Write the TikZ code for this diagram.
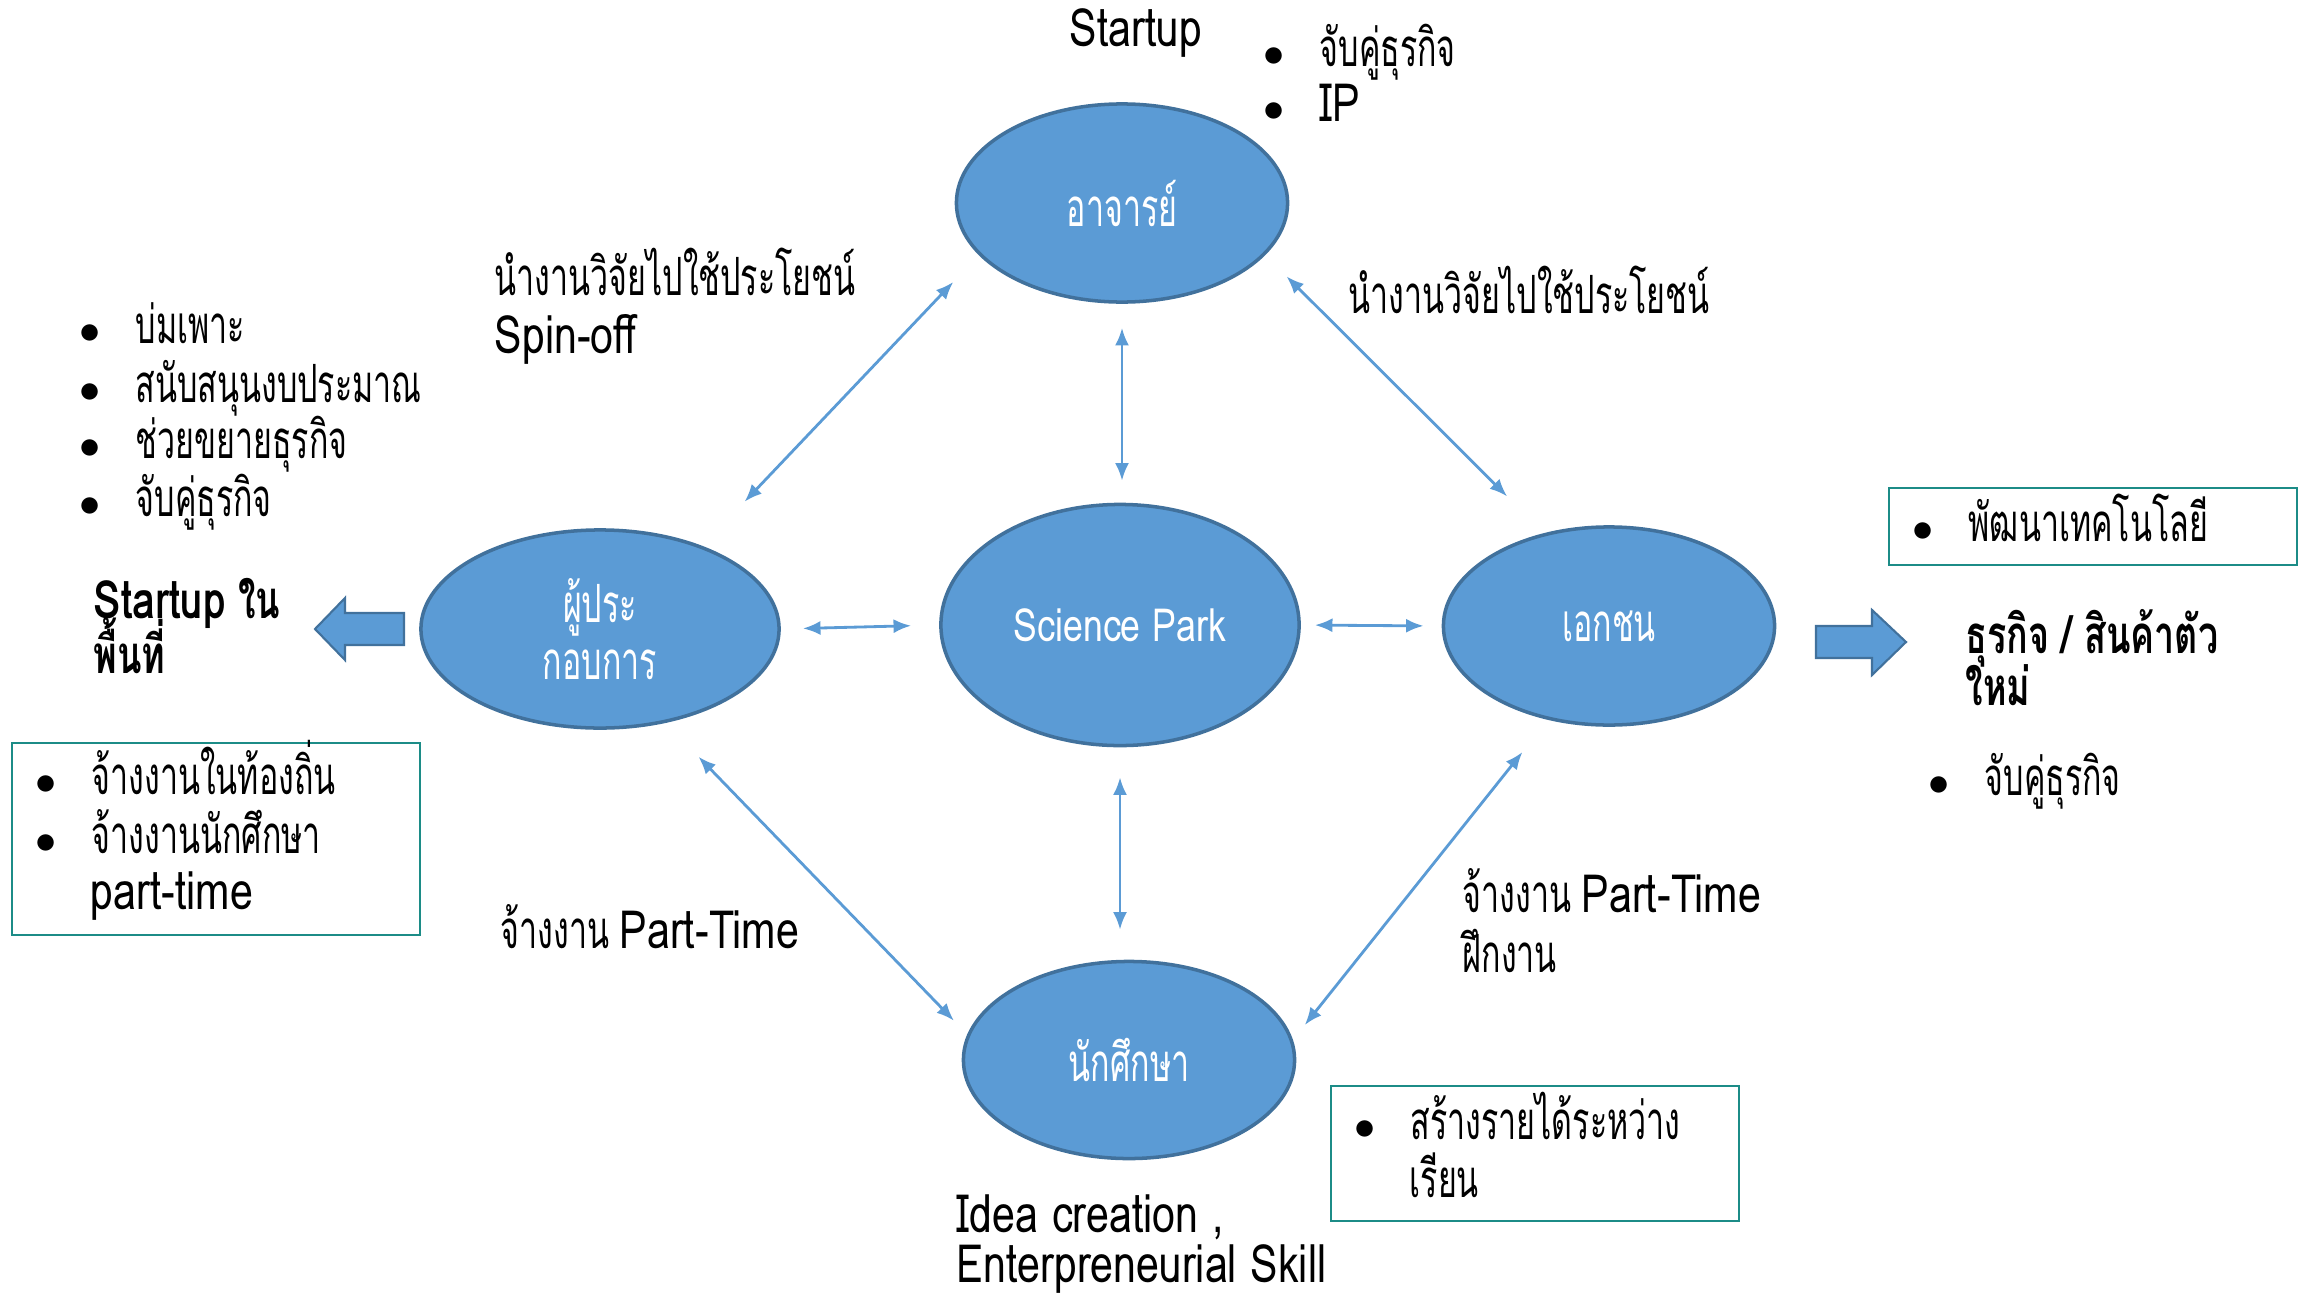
\documentclass[tikz,border=0pt]{standalone}
\usepackage{fontspec}
\setmainfont[Script=Thai,FakeStretch=0.61,BoldFeatures={FakeStretch=0.68}]{Loma}
\newfontfamily\latfont[FakeStretch=0.78]{Loma}
\usetikzlibrary{shapes.geometric,arrows.meta}
\definecolor{nodeblue}{HTML}{5B9BD5}
\definecolor{edgeblue}{HTML}{41719C}
\definecolor{boxteal}{HTML}{1C8C87}
\newcommand{\lat}[1]{{\latfont #1}}
\newcommand{\itm}[1]{\makebox[0.56cm][l]{\fontsize{12}{12}\selectfont$\bullet$}#1}
\tikzset{
  actor/.style={ellipse, fill=nodeblue, draw=edgeblue, line width=1pt, text=white, align=center, inner sep=0pt},
  link/.style={<->, >={Latex[length=5pt,width=4pt]}, draw=nodeblue, line width=0.8pt},
  txt/.style={anchor=base west, inner sep=0pt},
  tagbox/.style={draw=boxteal, line width=0.8pt},
  bigarrow/.style={fill=nodeblue, draw=edgeblue, line width=0.6pt}
}

\begin{document}
\begin{tikzpicture}[x=0.01cm,y=-0.01cm,font=\fontsize{15}{16}\selectfont]
    \useasboundingbox (0,0) rectangle (2321,1303);
    % partners
    \node[actor, minimum width=3.31cm, minimum height=1.98cm] (ajarn) at (1122,203) {อาจารย์};
    \node[actor, minimum width=3.58cm, minimum height=2.41cm] (park) at (1120,625) {\fontsize{13}{14}\selectfont\lat{Science Park}};
    \node[actor, minimum width=3.58cm, minimum height=1.98cm] (operator) at (600,629) {ผู้ประ\\กอบการ};
    \node[actor, minimum width=3.31cm, minimum height=1.98cm] (ekachon) at (1609,626) {เอกชน};
    \node[actor, minimum width=3.31cm, minimum height=1.97cm] (student) at (1129,1060) {นักศึกษา};

    % links
    \draw[link, shorten <=0.24cm, shorten >=0.22cm] (ajarn.south) -- (ajarn.south |- park.north);
    \draw[link, shorten <=0.30cm, shorten >=0.30cm] (park.south) -- (park.south |- student.north);
    \draw[link, shorten <=0.22cm, shorten >=0.28cm] (operator.east) -- (park.west);
    \draw[link, shorten <=0.14cm, shorten >=0.18cm] (park.east) -- (ekachon.west);
    \draw[link, shorten <=0.37cm, shorten >=0.61cm] (ajarn.200) -- (operator.39);
    \draw[link, shorten <=0.30cm, shorten >=0.52cm] (ajarn.340) -- (ekachon.125);
    \draw[link, shorten <=0.47cm, shorten >=0.19cm] (operator.305) -- (student.171);
    \draw[link, shorten <=0.41cm, shorten >=0.19cm] (ekachon.237) -- (student.7);

    % block arrows
    \filldraw[bigarrow] (404,613) -- (345,613) -- (345,598) -- (315,629) -- (345,660) -- (345,645) -- (404,645) -- cycle;
    \filldraw[bigarrow] (1816,626) -- (1872,626) -- (1872,610) -- (1906,642) -- (1872,675) -- (1872,658) -- (1816,658) -- cycle;

    % boxes
    \draw[tagbox] (12,743) rectangle (420,935);
    \draw[tagbox] (1889,488) rectangle (2297,565);
    \draw[tagbox] (1331,1086) rectangle (1739,1221);

    % texts
    \node[txt] (startupTop) at (1069,46) {\lat{Startup}};
    \node[txt] (topItemA) at (1263,66) {\itm{จับคู่ธุรกิจ}};
    \node[txt] (topItemB) at (1263,121) {\itm{\lat{IP}}};
    \node[txt] (spinA) at (494,295) {นำงานวิจัยไปใช้ประโยชน์};
    \node[txt] (spinB) at (494,353) {\lat{Spin-off}};
    \node[txt] (useRight) at (1348,313) {นำงานวิจัยไปใช้ประโยชน์};
    \node[txt] (incA) at (79,343) {\itm{บ่มเพาะ}};
    \node[txt] (incB) at (79,402) {\itm{สนับสนุนงบประมาณ}};
    \node[txt] (incC) at (79,458) {\itm{ช่วยขยายธุรกิจ}};
    \node[txt] (incD) at (79,516) {\itm{จับคู่ธุรกิจ}};
    \node[txt] (localA) at (93,618) {\bfseries \lat{Startup} ใน};
    \node[txt] (localB) at (93,673) {\bfseries พื้นที่};
    \node[txt] (hireA) at (35,794) {\itm{จ้างงานในท้องถิ่น}};
    \node[txt] (hireB) at (35,853) {\itm{จ้างงานนักศึกษา}};
    \node[txt] (hireC) at (90,909) {\lat{part-time}};
    \node[txt] (partLeft) at (500,948) {จ้างงาน \lat{Part-Time}};
    \node[txt] (techA) at (1912,541) {\itm{พัฒนาเทคโนโลยี}};
    \node[txt] (newA) at (1965,653) {\bfseries ธุรกิจ / สินค้าตัว};
    \node[txt] (newB) at (1965,705) {\bfseries ใหม่};
    \node[txt] (matchR) at (1928,795) {\itm{จับคู่ธุรกิจ}};
    \node[txt] (partRightA) at (1462,912) {จ้างงาน \lat{Part-Time}};
    \node[txt] (partRightB) at (1462,972) {ฝึกงาน};
    \node[txt] (incomeA) at (1354,1139) {\itm{สร้างรายได้ระหว่าง}};
    \node[txt] (incomeB) at (1409,1197) {เรียน};
    \node[txt] (ideaA) at (956,1232) {\lat{Idea creation ,}};
    \node[txt] (ideaB) at (956,1282) {\lat{Enterpreneurial Skill}};
\end{tikzpicture}
\end{document}
